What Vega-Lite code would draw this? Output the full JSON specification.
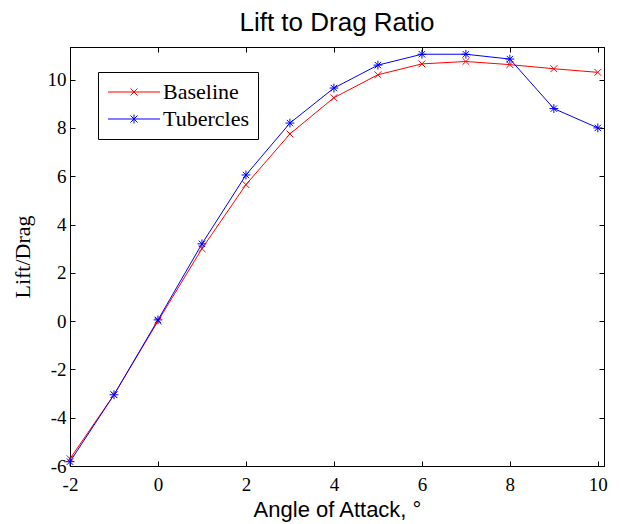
{
  "$schema": "https://vega.github.io/schema/vega-lite/v6.json",
  "width": 534,
  "height": 419,
  "autosize": {"type": "none"},
  "padding": {"left": 70, "top": 47, "right": 17, "bottom": 58},
  "background": "white",
  "title": {
    "text": "Lift to Drag Ratio",
    "font": "Liberation Sans",
    "fontSize": 26,
    "fontWeight": "normal",
    "color": "black",
    "anchor": "middle",
    "offset": 11
  },
  "data": {
    "values": [
      {"aoa": -2, "ld": -5.7, "series": "Baseline"},
      {"aoa": -1, "ld": -3.05, "series": "Baseline"},
      {"aoa": 0, "ld": 0.0, "series": "Baseline"},
      {"aoa": 1, "ld": 3.0, "series": "Baseline"},
      {"aoa": 2, "ld": 5.65, "series": "Baseline"},
      {"aoa": 3, "ld": 7.75, "series": "Baseline"},
      {"aoa": 4, "ld": 9.25, "series": "Baseline"},
      {"aoa": 5, "ld": 10.2, "series": "Baseline"},
      {"aoa": 6, "ld": 10.65, "series": "Baseline"},
      {"aoa": 7, "ld": 10.75, "series": "Baseline"},
      {"aoa": 8, "ld": 10.62, "series": "Baseline"},
      {"aoa": 9, "ld": 10.45, "series": "Baseline"},
      {"aoa": 10, "ld": 10.3, "series": "Baseline"},
      {"aoa": -2, "ld": -5.82, "series": "Tubercles"},
      {"aoa": -1, "ld": -3.05, "series": "Tubercles"},
      {"aoa": 0, "ld": 0.05, "series": "Tubercles"},
      {"aoa": 1, "ld": 3.2, "series": "Tubercles"},
      {"aoa": 2, "ld": 6.05, "series": "Tubercles"},
      {"aoa": 3, "ld": 8.2, "series": "Tubercles"},
      {"aoa": 4, "ld": 9.65, "series": "Tubercles"},
      {"aoa": 5, "ld": 10.6, "series": "Tubercles"},
      {"aoa": 6, "ld": 11.05, "series": "Tubercles"},
      {"aoa": 7, "ld": 11.05, "series": "Tubercles"},
      {"aoa": 8, "ld": 10.85, "series": "Tubercles"},
      {"aoa": 9, "ld": 8.8, "series": "Tubercles"},
      {"aoa": 10, "ld": 8.0, "series": "Tubercles"}
    ]
  },
  "layer": [
    {
      "mark": {"type": "line", "strokeWidth": 1},
      "encoding": {
        "x": {
          "field": "aoa", "type": "quantitative",
          "scale": {"domain": [-2, 10.14], "nice": false, "zero": false},
          "axis": {
            "orient": "bottom",
            "values": [-2, 0, 2, 4, 6, 8, 10],
            "labelExpr": "'' + datum.value",
            "title": "Angle of Attack, °",
            "titleFont": "Liberation Sans",
            "titleFontSize": 22,
            "titleFontWeight": "normal",
            "titlePadding": 5,
            "labelFont": "Liberation Serif",
            "labelFontSize": 19,
            "labelPadding": 14,
            "tickSize": -5,
            "labelFlush": false
          }
        },
        "y": {
          "field": "ld", "type": "quantitative",
          "scale": {"domain": [-6, 11.35], "nice": false, "zero": false},
          "axis": {
            "orient": "left",
            "values": [-6, -4, -2, 0, 2, 4, 6, 8, 10],
            "labelExpr": "'' + datum.value",
            "title": "Lift/Drag",
            "titleFont": "Liberation Serif",
            "titleFontSize": 22,
            "titleFontWeight": "normal",
            "titlePadding": 13,
            "labelFont": "Liberation Serif",
            "labelFontSize": 19,
            "labelPadding": 9,
            "tickSize": -5,
            "labelFlush": false
          }
        },
        "stroke": {
          "field": "series", "type": "nominal",
          "scale": {"domain": ["Baseline", "Tubercles"], "range": ["#ff0000", "#0000ff"]},
          "legend": {
            "orient": "none",
            "legendX": 28,
            "legendY": 25,
            "title": null,
            "strokeColor": "black",
            "fillColor": "white",
            "padding": 9,
            "cornerRadius": 0,
            "labelFont": "Liberation Serif",
            "labelFontSize": 22,
            "labelColor": "black",
            "symbolSize": 400,
            "labelOffset": 34,
            "rowPadding": 5,
            "encode": {
              "symbols": {
                "update": {
                  "shape": {"signal": "datum.value === 'Baseline' ? 'M-1,0L4.2,0M1.25,-0.35L1.95,0.35M1.25,0.35L1.95,-0.35' : 'M-1,0L4.2,0M1.25,-0.35L1.95,0.35M1.25,0.35L1.95,-0.35M1.6,-0.45L1.6,0.45'"},
                  "fill": {"value": "transparent"},
                  "strokeWidth": {"value": 1}
                }
              }
            }
          }
        }
      }
    },
    {
      "transform": [{"filter": "datum.series === 'Baseline'"}],
      "mark": {"type": "point", "filled": false, "strokeWidth": 1, "size": 64, "opacity": 1, "color": "#ff0000",
        "shape": "M-0.85,-0.85L0.85,0.85M-0.85,0.85L0.85,-0.85"},
      "encoding": {
        "x": {"field": "aoa", "type": "quantitative", "axis": null},
        "y": {"field": "ld", "type": "quantitative", "axis": null}
      }
    },
    {
      "transform": [{"filter": "datum.series === 'Tubercles'"}],
      "mark": {"type": "point", "filled": false, "strokeWidth": 1, "size": 64, "opacity": 1, "color": "#0000ff",
        "shape": "M-0.8,-0.8L0.8,0.8M-0.8,0.8L0.8,-0.8M-1.1,0L1.1,0M0,-1.1L0,1.1"},
      "encoding": {
        "x": {"field": "aoa", "type": "quantitative", "axis": null},
        "y": {"field": "ld", "type": "quantitative", "axis": null}
      }
    },
    {
      "mark": {"type": "point", "opacity": 0},
      "encoding": {
        "x": {
          "field": "aoa", "type": "quantitative",
          "axis": {"orient": "top", "values": [-2, 0, 2, 4, 6, 8, 10], "labels": false, "title": null, "tickSize": -5}
        },
        "y": {
          "field": "ld", "type": "quantitative",
          "axis": {"orient": "right", "values": [-6, -4, -2, 0, 2, 4, 6, 8, 10], "labels": false, "title": null, "tickSize": -5}
        }
      }
    }
  ],
  "resolve": {"axis": {"x": "independent", "y": "independent"}},
  "config": {
    "view": {"stroke": "black", "strokeWidth": 1},
    "axis": {
      "grid": false,
      "domainColor": "black",
      "domainWidth": 1,
      "tickColor": "black",
      "tickWidth": 1,
      "labelColor": "black",
      "titleColor": "black"
    }
  }
}
